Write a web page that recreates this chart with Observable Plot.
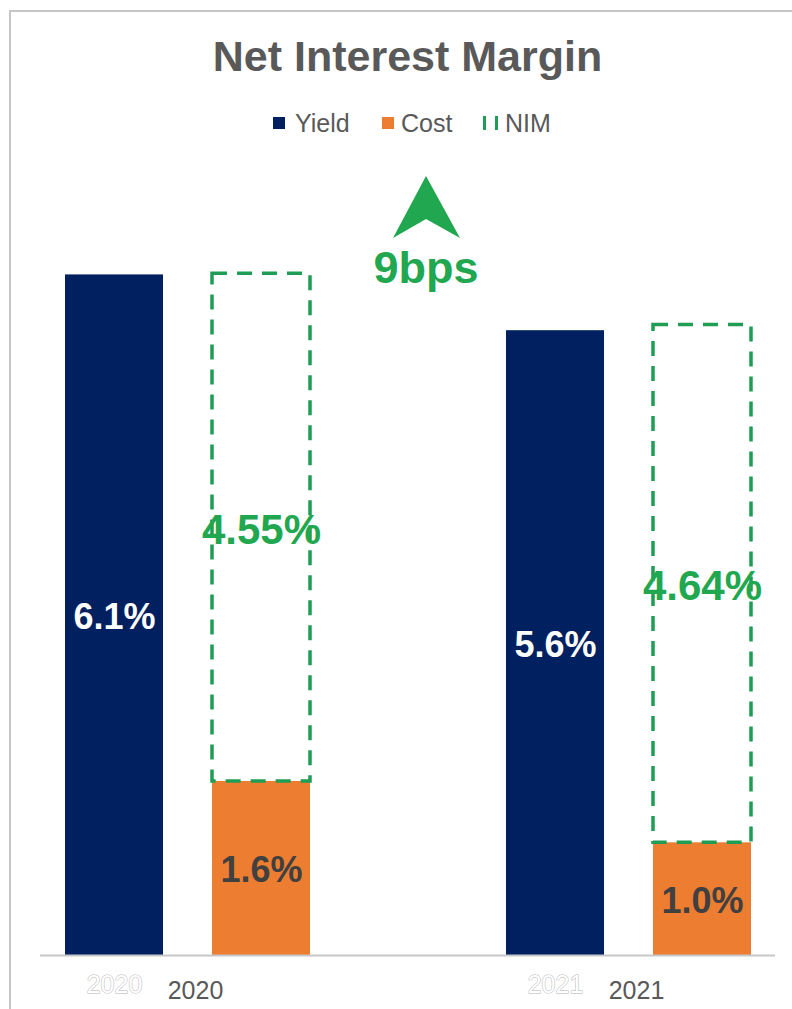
<!DOCTYPE html>
<html>
<head>
<meta charset="utf-8">
<script src="https://cdn.jsdelivr.net/npm/d3@7"></script>
<script src="https://cdn.jsdelivr.net/npm/@observablehq/plot@0.6"></script>
<style>
  html, body { margin: 0; padding: 0; background: #fff; }
  #wrap { position: relative; width: 792px; height: 1009px; overflow: hidden; font-family: "Liberation Sans", Arial, sans-serif; }
  #frame { position: absolute; left: 9px; top: 10px; right: -4px; bottom: -4px; border-left: 2px solid #c6c6c6; border-top: 2px solid #c6c6c6; }
  #chart { position: absolute; left: 0; top: 0; }
  .abs { position: absolute; line-height: 1; white-space: nowrap; }
  #title { left: 40px; width: 735px; top: 35px; text-align: center; font-weight: bold; font-size: 43px; color: #595959; }
  .lg { font-size: 25px; color: #595959; top: 111px; }
  .sw { position: absolute; }
  #bps { left: 326px; width: 200px; top: 245px; text-align: center; font-weight: bold; font-size: 45px; color: #21a74f; }
  #overlay { position: absolute; left: 0; top: 0; pointer-events: none; }
</style>
</head>
<body>
<div id="wrap">
  <div id="frame"></div>
  <div id="chart"></div>
  <div id="title" class="abs">Net Interest Margin</div>
  <div class="sw" style="left:273px;top:117px;width:12px;height:12px;background:#002060"></div>
  <div class="abs lg" style="left:295px">Yield</div>
  <div class="sw" style="left:382px;top:117px;width:12px;height:12px;background:#ED7D31"></div>
  <div class="abs lg" style="left:401px">Cost</div>
  <div class="sw" style="left:483px;top:116px;width:3px;height:14px;background:#1f9d55"></div>
  <div class="sw" style="left:495px;top:116px;width:3px;height:14px;background:#1f9d55"></div>
  <div class="abs lg" style="left:505px">NIM</div>
  <svg id="overlay" width="792" height="1009">
    <polygon points="426,176 460,238 426,219 393,238" fill="#21a74f"></polygon>
  </svg>
  <div id="bps" class="abs">9bps</div>
</div>
<script>
const years = ["2020", "2021"];
const yieldValues = [6.1, 5.6];
const costValues = [1.56, 1.01];
const nimValues = [4.55, 4.64];
const yieldLabels = ["6.1%", "5.6%"];
const costLabels = ["1.6%", "1.0%"];
const nimLabels = ["4.55%", "4.64%"];
const slots = ["2020 Yield", "2020 Cost", "", "2021 Yield", "2021 Cost"];

const yieldRows = years.map((yr, i) => ({year: yr, slot: `${yr} Yield`, value: yieldValues[i], label: yieldLabels[i]}));
const costRows = years.map((yr, i) => ({year: yr, slot: `${yr} Cost`, value: costValues[i], label: costLabels[i]}));
const nimRows = years.map((yr, i) => ({year: yr, slot: `${yr} Cost`, base: costValues[i], top: costValues[i] + nimValues[i], label: nimLabels[i]}));

const chart = Plot.plot({
  width: 792,
  height: 1009,
  marginLeft: 40,
  marginRight: 17,
  marginTop: 174,
  marginBottom: 54,
  x: {domain: slots, paddingInner: 1/3, paddingOuter: 1/6, axis: null},
  y: {domain: [0, 7], axis: null},
  style: {fontFamily: "'Liberation Sans', Arial, sans-serif", background: "transparent", overflow: "visible"},
  marks: [
    Plot.barY(yieldRows, {x: "slot", y: "value", fill: "#002060"}),
    Plot.barY(costRows, {x: "slot", y: "value", fill: "#ED7D31"}),
    Plot.barY(nimRows, {x: "slot", y1: "base", y2: "top", fill: "none", stroke: "#1f9d55", strokeWidth: 3.5, strokeDasharray: "15,10"}),
    Plot.ruleY([0], {stroke: "#c8c8c8", strokeWidth: 2}),
    Plot.text(yieldRows, {x: "slot", y: d => d.value / 2, text: "label", fill: "white", fontSize: 36, fontWeight: "bold", lineAnchor: "middle", dy: 2}),
    Plot.text(costRows, {x: "slot", y: d => d.value / 2, text: "label", fill: "#404040", fontSize: 36, fontWeight: "bold", lineAnchor: "middle", dy: 2}),
    Plot.text(nimRows, {x: "slot", y: d => (d.base + d.top) / 2, text: "label", fill: "#21a74f", fontSize: 42, fontWeight: "bold", lineAnchor: "middle", dy: 3}),
    Plot.text(yieldRows, {x: "slot", y: 0, text: "year", dy: 37, lineAnchor: "bottom", fontSize: 25, fill: "white", stroke: "#b4b4b4", strokeWidth: 1}),
    Plot.text(yieldRows, {x: "slot", y: 0, text: "year", dx: 81, dy: 43, lineAnchor: "bottom", fontSize: 25, fill: "#595959"})
  ]
});
document.getElementById("chart").appendChild(chart);
</script>
</body>
</html>
